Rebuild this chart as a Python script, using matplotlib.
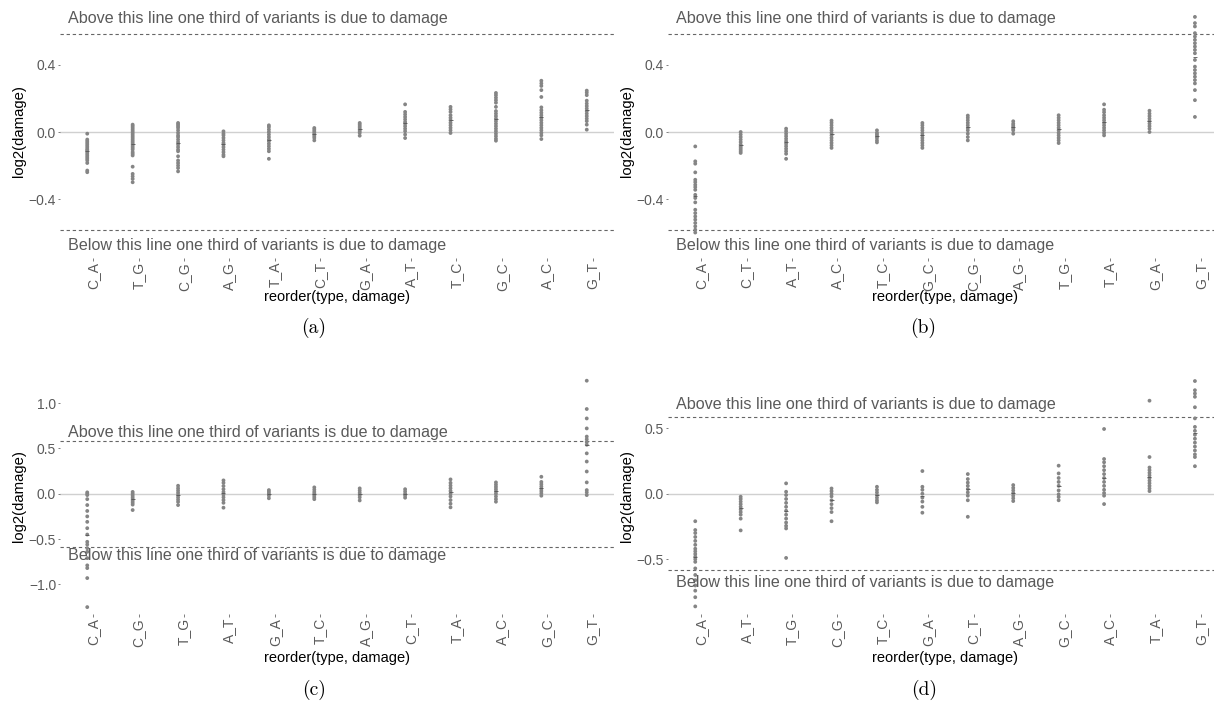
"""
Four panels: log2(damage) per substitution type, ordered by damage.
"""
import math

import matplotlib
matplotlib.use('Agg')
import matplotlib.pyplot as plt
import numpy as np

plt.rcParams['font.family'] = ['Liberation Sans', 'DejaVu Sans']

W, H = 1214, 702
THIRD = math.log2(1.5)

# ---- panel (a) ----
a_types = ['C_A', 'T_G', 'C_G', 'A_G', 'T_A', 'C_T', 'G_A', 'A_T', 'T_C', 'G_C', 'A_C', 'G_T']
a_vals = [
    [-0.01, -0.045, -0.055, -0.065, -0.075, -0.085, -0.095, -0.105, -0.11, -0.12, -0.13, -0.14, -0.15, -0.16, -0.17, -0.185, -0.23, -0.24],
    [0.044, 0.035, 0.025, 0.015, 0.005, -0.005, -0.015, -0.025, -0.035, -0.045, -0.055, -0.065, -0.075, -0.085, -0.095, -0.105, -0.12, -0.13, -0.14, -0.207, -0.25, -0.265, -0.28, -0.30],
    [0.054, 0.045, 0.035, 0.025, 0.01, -0.005, -0.02, -0.03, -0.045, -0.06, -0.075, -0.09, -0.105, -0.115, -0.145, -0.17, -0.185, -0.2, -0.215, -0.235],
    [0.004, -0.01, -0.02, -0.035, -0.05, -0.065, -0.075, -0.09, -0.105, -0.12, -0.135, -0.145],
    [0.04, 0.03, 0.015, 0.0, -0.015, -0.03, -0.045, -0.055, -0.07, -0.085, -0.1, -0.115, -0.16],
    [0.024, 0.015, 0.005, -0.005, -0.015, -0.025, -0.035, -0.05],
    [0.054, 0.045, 0.035, 0.025, 0.015, 0.005, -0.005, -0.022],
    [0.165, 0.12, 0.105, 0.09, 0.075, 0.06, 0.05, 0.035, 0.02, 0.005, -0.015, -0.036],
    [0.15, 0.135, 0.12, 0.1, 0.085, 0.07, 0.055, 0.04, 0.025, 0.01, -0.006],
    [0.233, 0.22, 0.205, 0.19, 0.175, 0.15, 0.125, 0.11, 0.095, 0.08, 0.065, 0.05, 0.035, 0.02, 0.005, -0.01, -0.025, -0.04, -0.052],
    [0.306, 0.29, 0.275, 0.25, 0.209, 0.147, 0.13, 0.115, 0.1, 0.085, 0.07, 0.055, 0.04, 0.025, 0.01, -0.005, -0.02, -0.042],
    [0.247, 0.235, 0.22, 0.187, 0.17, 0.155, 0.14, 0.125, 0.11, 0.095, 0.08, 0.065, 0.044, 0.014],
]

# ---- panel (b) ----
b_types = ['C_A', 'C_T', 'A_T', 'A_C', 'T_C', 'G_C', 'C_G', 'A_G', 'T_G', 'T_A', 'G_A', 'G_T']
b_vals = [
    [-0.086, -0.175, -0.189, -0.241, -0.285, -0.299, -0.315, -0.329, -0.345, -0.375, -0.394, -0.42, -0.464, -0.484, -0.504, -0.523, -0.543, -0.563, -0.583, -0.6],
    [0.0, -0.015, -0.03, -0.045, -0.06, -0.075, -0.085, -0.095, -0.105, -0.115, -0.125],
    [0.02, 0.005, -0.01, -0.025, -0.04, -0.055, -0.07, -0.085, -0.1, -0.115, -0.13, -0.16],
    [0.068, 0.055, 0.04, 0.025, 0.01, -0.005, -0.02, -0.035, -0.05, -0.065, -0.08, -0.095],
    [0.01, -0.005, -0.015, -0.025, -0.035, -0.05, -0.062],
    [0.054, 0.04, 0.025, 0.01, -0.005, -0.02, -0.035, -0.05, -0.065, -0.08, -0.095],
    [0.098, 0.085, 0.07, 0.055, 0.04, 0.025, 0.01, -0.01, -0.03, -0.05],
    [0.064, 0.05, 0.04, 0.03, 0.02, 0.01, -0.01],
    [0.1, 0.085, 0.07, 0.055, 0.04, 0.025, 0.01, -0.005, -0.02, -0.035, -0.05, -0.066],
    [0.165, 0.133, 0.118, 0.1, 0.085, 0.07, 0.055, 0.04, 0.025, 0.01, -0.005, -0.02],
    [0.127, 0.11, 0.095, 0.08, 0.065, 0.05, 0.035, 0.02, 0.0],
    [0.687, 0.65, 0.63, 0.59, 0.57, 0.55, 0.53, 0.51, 0.49, 0.47, 0.43, 0.39, 0.37, 0.35, 0.33, 0.31, 0.29, 0.25, 0.19, 0.09],
]

# ---- panel (c) ----
c_types = ['C_A', 'C_G', 'T_G', 'A_T', 'G_A', 'T_C', 'A_G', 'C_T', 'T_A', 'A_C', 'G_C', 'G_T']
c_vals = [
    [0.015, 0.0, -0.015, -0.06, -0.125, -0.19, -0.25, -0.31, -0.38, -0.45, -0.53, -0.56, -0.6, -0.64, -0.71, -0.79, -0.82, -0.93, -1.25],
    [0.02, 0.0, -0.02, -0.04, -0.06, -0.08, -0.1, -0.12, -0.18],
    [0.088, 0.06, 0.035, 0.01, -0.015, -0.04, -0.065, -0.09, -0.125],
    [0.147, 0.12, 0.085, 0.05, 0.02, -0.01, -0.04, -0.07, -0.1, -0.154],
    [0.04, 0.02, 0.0, -0.02, -0.05],
    [0.07, 0.045, 0.02, 0.0, -0.02, -0.04, -0.06],
    [0.059, 0.035, 0.01, -0.015, -0.04, -0.074],
    [0.05, 0.025, 0.0, -0.02, -0.044],
    [0.158, 0.12, 0.09, 0.06, 0.03, 0.0, -0.03, -0.07, -0.11, -0.15],
    [0.125, 0.1, 0.075, 0.05, 0.025, 0.0, -0.03, -0.06, -0.088],
    [0.187, 0.13, 0.105, 0.08, 0.055, 0.03, 0.005, -0.022],
    [1.246, 0.934, 0.83, 0.72, 0.63, 0.6, 0.57, 0.54, 0.445, 0.355, 0.245, 0.125, 0.04, 0.015, -0.015],
]

# ---- panel (d) ----
d_types = ['C_A', 'A_T', 'T_G', 'C_G', 'T_C', 'G_A', 'C_T', 'A_G', 'G_C', 'A_C', 'T_A', 'G_T']
d_vals = [
    [-0.21, -0.277, -0.3, -0.33, -0.36, -0.39, -0.42, -0.44, -0.46, -0.48, -0.5, -0.52, -0.57, -0.62, -0.66, -0.7, -0.74, -0.79, -0.86],
    [-0.023, -0.04, -0.06, -0.08, -0.1, -0.12, -0.14, -0.16, -0.19, -0.28],
    [0.079, 0.015, -0.01, -0.04, -0.07, -0.1, -0.13, -0.16, -0.19, -0.22, -0.245, -0.265, -0.49],
    [0.04, 0.02, 0.0, -0.02, -0.05, -0.08, -0.11, -0.14, -0.21],
    [0.053, 0.03, 0.01, -0.01, -0.03, -0.05, -0.066],
    [0.173, 0.053, 0.03, 0.0, -0.03, -0.06, -0.1, -0.145],
    [0.15, 0.112, 0.085, 0.06, 0.035, 0.01, -0.015, -0.05, -0.176],
    [0.066, 0.045, 0.025, 0.005, -0.015, -0.035, -0.056],
    [0.214, 0.155, 0.12, 0.09, 0.06, 0.025, -0.005, -0.025, -0.05],
    [0.494, 0.265, 0.24, 0.21, 0.18, 0.15, 0.12, 0.09, 0.06, 0.03, 0.005, -0.015, -0.079],
    [0.71, 0.28, 0.2, 0.18, 0.16, 0.14, 0.12, 0.1, 0.08, 0.06, 0.04, 0.02],
    [0.86, 0.79, 0.765, 0.74, 0.66, 0.575, 0.51, 0.48, 0.45, 0.42, 0.39, 0.36, 0.33, 0.3, 0.28, 0.21],
]

a_yticks = [-0.4, 0.0, 0.4]
b_yticks = [-0.4, 0.0, 0.4]
c_yticks = [-1.0, -0.5, 0.0, 0.5, 1.0]
d_yticks = [-0.5, 0.0, 0.5]

ABOVE = 'Above this line one third of variants is due to damage'
BELOW = 'Below this line one third of variants is due to damage'

txtgrey = '#5a5a5a'
ptgrey = '#858585'


def px_axes(fig, x0, y0, x1, y1):
    return fig.add_axes([x0 / W, 1 - y1 / H, (x1 - x0) / W, (y1 - y0) / H])


def panel(fig, box, types, vals, yticks, ylim, xmax, caption, cap_xy):
    x0, y0, x1, y1 = box
    ax = px_axes(fig, *box)
    for i, v in enumerate(vals):
        ax.scatter(np.full(len(v), i), v, s=7.5, color=ptgrey, edgecolors='none', zorder=3)
        # faint median tick, as in the original
        ax.plot(i, np.median(v), marker='_', ms=2.5, mew=0.6, color='#555555', zorder=4)

    ax.axhline(0, color='#d0d0d0', lw=1.0, zorder=1)
    for y in (THIRD, -THIRD):
        ax.axhline(y, color='#666666', lw=0.8, ls=(0, (3, 2.5)), zorder=2)

    ax.text(-0.43, 0.68, ABOVE, ha='left', va='center', fontsize=11.6, color=txtgrey)
    ax.text(-0.43, -0.68, BELOW, ha='left', va='center', fontsize=11.6, color=txtgrey)

    ax.set_xlim(-0.6, xmax)
    ax.set_ylim(*ylim)
    ax.set_xticks(np.arange(len(types)) + 0.13)
    ax.set_xticklabels(types, rotation=90, va='top', ha='center')
    ax.set_yticks(yticks)
    ax.set_yticklabels([f'{t:.1f}'.replace('-', '\u2212') for t in yticks])
    ax.tick_params(axis='both', length=1.8, width=0.6, color='#6a6a6a',
                   labelcolor='#5a5a5a', labelsize=10, pad=1)
    for s in ax.spines.values():
        s.set_visible(False)
    ax.set_facecolor('none')

    xc = (x0 + x0 + 554) / 2
    ybot = y1
    fig.text(xc / W, 1 - (ybot + (39 if ybot < 300 else 44)) / H,
             'reorder(type, damage)', ha='center', va='center', fontsize=10.5, color='black')
    fig.text((x0 - 41) / W, 1 - ((y0 + y1) / 2 + (0 if ybot < 300 else 3)) / H,
             'log2(damage)', rotation=90, ha='center', va='center', fontsize=10.7, color='black')
    fig.text(cap_xy[0] / W, 1 - cap_xy[1] / H, caption, ha='center', va='center',
             fontsize=14, family='cmr10', color='black')
    return ax


fig = plt.figure(figsize=(W / 100, H / 100), dpi=100)
fig.patch.set_facecolor('white')

panel(fig, (60, 5, 614, 258), a_types, a_vals, a_yticks, (-0.752, 0.758), 11.6, '(a)', (314, 328))
panel(fig, (668, 5, 1214, 258), b_types, b_vals, b_yticks, (-0.752, 0.758), 11.42, '(b)', (923, 328))
panel(fig, (60, 372, 614, 614), c_types, c_vals, c_yticks, (-1.326, 1.342), 11.6, '(c)', (314, 690))
panel(fig, (668, 372, 1214, 614), d_types, d_vals, d_yticks, (-0.918, 0.929), 11.42, '(d)', (924, 690))

fig.savefig('out.png', dpi=100, facecolor='white')
